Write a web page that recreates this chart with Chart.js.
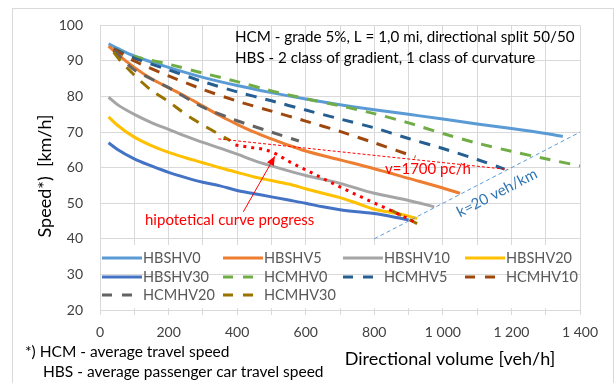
<!DOCTYPE html>
<html>
<head>
<meta charset="utf-8">
<script src="https://cdn.jsdelivr.net/npm/chart.js@4.4.1/dist/chart.umd.min.js"></script>
<style>
  html, body { margin: 0; padding: 0; background: #fff; }
  #wrap { position: relative; width: 614px; height: 383px; }
</style>
</head>
<body>
<div id="wrap"><canvas id="speedChart" width="614" height="383"></canvas></div>
<script>
// directional volume [veh/h] and speed [km/h]
const hbsHV0Vol = [25, 50, 100, 200, 300, 400, 500, 600, 700, 800, 900, 1000, 1100, 1200, 1300, 1350];
const hbsHV0Spd = [94.8, 93.6, 91.4, 88.2, 85.4, 83.1, 81.1, 79.3, 77.7, 76.3, 75.0, 73.7, 72.3, 71.0, 69.6, 68.8];

const hbsHV5Vol = [25, 50, 100, 150, 200, 250, 300, 350, 400, 450, 500, 550, 600, 700, 800, 900, 1000, 1050];
const hbsHV5Spd = [94.2, 92.0, 88.2, 85.0, 82.5, 80.0, 77.3, 74.6, 72.2, 70.0, 68.1, 66.3, 64.7, 62.2, 59.7, 57.0, 54.3, 52.8];

const hbsHV10Vol = [25, 50, 100, 150, 200, 250, 300, 350, 400, 450, 500, 550, 600, 700, 800, 900, 975];
const hbsHV10Spd = [79.8, 77.8, 75.0, 72.7, 70.8, 68.9, 67.1, 65.5, 63.8, 62.0, 60.5, 59.1, 57.8, 55.6, 52.8, 50.8, 49.0];

const hbsHV20Vol = [25, 50, 100, 150, 200, 250, 300, 350, 400, 450, 500, 550, 600, 650, 700, 750, 800, 850, 900, 925];
const hbsHV20Spd = [74.3, 72.0, 68.6, 66.2, 64.3, 62.8, 61.4, 60.0, 58.7, 57.4, 56.4, 55.4, 54.1, 52.8, 51.6, 50.0, 48.3, 47.4, 46.4, 45.7];

const hbsHV30Vol = [25, 50, 100, 150, 200, 250, 300, 350, 400, 450, 500, 550, 600, 650, 700, 750, 800, 850, 900];
const hbsHV30Spd = [67.0, 65.2, 62.5, 60.5, 58.7, 57.2, 55.9, 54.9, 53.6, 52.7, 51.8, 50.9, 50.0, 49.0, 48.2, 47.6, 47.1, 46.3, 45.3];

const hcmHV0Vol = [40, 100, 200, 300, 400, 500, 600, 700, 800, 900, 1000, 1100, 1200, 1300, 1400];
const hcmHV0Spd = [93.5, 91.3, 89.1, 86.6, 84.2, 81.6, 79.4, 77.4, 75.2, 72.6, 69.6, 66.9, 64.6, 62.5, 60.5];

const hcmHV5Vol = [40, 100, 200, 300, 400, 500, 600, 700, 800, 900, 1000, 1100, 1180];
const hcmHV5Spd = [93.5, 90.8, 87.5, 84.2, 81.3, 78.8, 76.2, 73.7, 71.2, 68.2, 65.4, 62.3, 59.6];

const hcmHV10Vol = [40, 100, 200, 300, 400, 500, 600, 700, 800, 920];
const hcmHV10Spd = [93.3, 90.0, 85.8, 82.0, 78.7, 75.9, 73.1, 70.2, 67.0, 63.0];

const hcmHV20Vol = [40, 100, 200, 300, 400, 500, 580];
const hcmHV20Spd = [93.0, 87.5, 82.5, 77.0, 73.2, 70.0, 67.5];

const hcmHV30Vol = [40, 60, 100, 150, 200, 250, 300, 380, 600, 850, 925];
const hcmHV30Spd = [92.5, 90.0, 86.0, 81.7, 78.6, 75.0, 72.0, 67.6, null, 48.0, 44.3];

// annotation lines
const hypoVol = [395, 440, 480, 515, 550, 600, 650, 700, 750, 800, 850, 900, 925];
const hypoSpd = [66.4, 65.7, 65.1, 63.8, 61.8, 59.4, 57.0, 54.6, 52.3, 50.1, 47.9, 45.6, 44.3];
const cap1700Vol = [345, 1190];
const cap1700Spd = [68.1, 59.5];
const k20Vol = [800, 1400];
const k20Spd = [40, 70];
const arrowVol = [418, 510];
const arrowSpd = [47.6, 63.2];

const FONT = 'Lato, "Open Sans", sans-serif';

function pts(xs, ys) {
  return xs.map((x, i) => ({ x: x, y: ys[i] }));
}

function fmtVol(v) {
  if (v % 200 !== 0) return '';
  if (v >= 1000) return Math.floor(v / 1000) + ' ' + String(v % 1000).padStart(3, '0');
  return String(v);
}

const solid = (label, xs, ys, color) => ({
  label: label, data: pts(xs, ys), borderColor: color, backgroundColor: color,
  borderWidth: 3, pointRadius: 0, cubicInterpolationMode: 'monotone', inLegend: true
});
const dashed = (label, xs, ys, color) => ({
  label: label, data: pts(xs, ys), borderColor: color, backgroundColor: color,
  borderWidth: 3, borderDash: [11, 9], pointRadius: 0, tension: 0.2, inLegend: true
});

const datasets = [
  solid('HBSHV0', hbsHV0Vol, hbsHV0Spd, '#5b9bd5'),
  solid('HBSHV5', hbsHV5Vol, hbsHV5Spd, '#ed7d31'),
  solid('HBSHV10', hbsHV10Vol, hbsHV10Spd, '#a5a5a5'),
  solid('HBSHV20', hbsHV20Vol, hbsHV20Spd, '#ffc000'),
  solid('HBSHV30', hbsHV30Vol, hbsHV30Spd, '#4472c4'),
  dashed('HCMHV0', hcmHV0Vol, hcmHV0Spd, '#70ad47'),
  dashed('HCMHV5', hcmHV5Vol, hcmHV5Spd, '#255e91'),
  dashed('HCMHV10', hcmHV10Vol, hcmHV10Spd, '#9e480e'),
  dashed('HCMHV20', hcmHV20Vol, hcmHV20Spd, '#636363'),
  dashed('HCMHV30', hcmHV30Vol, hcmHV30Spd, '#997300'),
  { label: 'v=1700', data: pts(cap1700Vol, cap1700Spd), borderColor: '#ff0000', borderWidth: 1, borderDash: [3, 2], pointRadius: 0 },
  { label: 'k=20', data: pts(k20Vol, k20Spd), borderColor: '#5b9bd5', borderWidth: 1, borderDash: [4, 3], pointRadius: 0 },
  { label: 'hypo', data: pts(hypoVol, hypoSpd), borderColor: '#ff0000', borderWidth: 3, borderDash: [3, 5], pointRadius: 0, cubicInterpolationMode: 'monotone' },
  { label: 'arrow', data: pts(arrowVol, arrowSpd), borderColor: '#ff0000', borderWidth: 1, pointRadius: 0, isArrow: true }
];
// later series on top, like the spreadsheet
datasets.forEach((d, i) => { d.order = 100 - i; d.spanGaps = false; });

const extras = {
  id: 'extras',
  beforeDraw(chart) {
    const ctx = chart.ctx;
    ctx.save();
    ctx.fillStyle = '#fff';
    ctx.fillRect(0, 0, chart.width, chart.height);
    ctx.strokeStyle = '#d9d9d9';
    ctx.lineWidth = 1;
    ctx.strokeRect(12.5, 8.5, 601, 420);
    ctx.restore();
  },
  beforeDatasetsDraw(chart) {
    const ctx = chart.ctx, y = chart.scales.y, a = chart.chartArea;
    ctx.save();
    ctx.fillStyle = '#fff';
    ctx.fillRect(a.left + 1, 245, a.right - a.left - 2, 63);
    ctx.strokeStyle = '#d9d9d9';
    ctx.lineWidth = 1;
    const y30 = Math.round(y.getPixelForValue(30)) + 0.5;
    ctx.beginPath(); ctx.moveTo(a.left, y30); ctx.lineTo(a.right, y30); ctx.stroke();
    ctx.restore();
  },
  afterDatasetsDraw(chart) {
    const ctx = chart.ctx, sx = chart.scales.x, sy = chart.scales.y;
    ctx.save();
    // arrow head
    const x0 = sx.getPixelForValue(arrowVol[0]), y0 = sy.getPixelForValue(arrowSpd[0]);
    const x1 = sx.getPixelForValue(arrowVol[1]), y1 = sy.getPixelForValue(arrowSpd[1]);
    const ang = Math.atan2(y1 - y0, x1 - x0);
    ctx.fillStyle = '#ff0000';
    ctx.translate(x1, y1); ctx.rotate(ang);
    ctx.beginPath(); ctx.moveTo(0, 0); ctx.lineTo(-9, -4); ctx.lineTo(-9, 4); ctx.closePath(); ctx.fill();
    ctx.restore();

    ctx.save();
    ctx.textBaseline = 'middle';
    ctx.fillStyle = '#000';
    ctx.font = '15.2px ' + FONT;
    ctx.fillText('HCM - grade 5%, L = 1,0 mi, directional split 50/50', 235, 37);
    ctx.fillText('HBS - 2 class of gradient, 1 class of curvature', 235, 58);
    ctx.fillStyle = '#ff0000';
    ctx.font = '15px ' + FONT;
    ctx.fillText('v=1700 pc/h', 385, 169);
    ctx.fillText('hipotetical curve progress', 145, 220);
    // k=20 label along its line
    const kx0 = sx.getPixelForValue(k20Vol[0]), ky0 = sy.getPixelForValue(k20Spd[0]);
    const kx1 = sx.getPixelForValue(k20Vol[1]), ky1 = sy.getPixelForValue(k20Spd[1]);
    ctx.translate(497, 193);
    ctx.rotate(Math.atan2(ky1 - ky0, kx1 - kx0));
    ctx.fillStyle = '#2e75b6';
    ctx.textAlign = 'center';
    ctx.fillText('k=20 veh/km', 0, 0);
    ctx.restore();
  },
  afterDraw(chart) {
    const ctx = chart.ctx;
    ctx.save();
    // legend
    const colX = [102, 223, 343, 465], rowY = [258, 277, 295];
    ctx.font = '14.5px ' + FONT;
    ctx.textBaseline = 'middle';
    let n = 0;
    chart.data.datasets.forEach(d => {
      if (!d.inLegend) return;
      const cx = colX[n % 4], cy = rowY[Math.floor(n / 4)];
      ctx.strokeStyle = d.borderColor;
      ctx.lineWidth = 3;
      ctx.setLineDash(d.borderDash ? [10, 10] : []);
      ctx.beginPath(); ctx.moveTo(cx, cy); ctx.lineTo(cx + 40, cy); ctx.stroke();
      ctx.setLineDash([]);
      ctx.fillStyle = '#595959';
      ctx.fillText(d.label, cx + 41, cy);
      n++;
    });
    // titles and footnote
    ctx.fillStyle = '#000';
    ctx.font = '18px ' + FONT;
    ctx.textAlign = 'center';
    ctx.fillText('Directional volume [veh/h]', 450, 359);
    ctx.save();
    ctx.translate(45, 176);
    ctx.rotate(-Math.PI / 2);
    ctx.fillText('Speed*)  [km/h]', 0, 0);
    ctx.restore();
    ctx.textAlign = 'left';
    ctx.font = '15.5px ' + FONT;
    ctx.fillText('*) HCM - average travel speed', 25, 352);
    ctx.fillText('HBS - average passenger car travel speed', 43, 372);
    ctx.restore();
  }
};

const config = {
  type: 'line',
  data: { datasets: datasets },
  options: {
    responsive: false,
    animation: false,
    devicePixelRatio: 1,
    layout: { padding: { left: 0, top: 25, right: 34, bottom: 0 } },
    plugins: { legend: { display: false }, tooltip: { enabled: false } },
    scales: {
      x: {
        type: 'linear', min: 0, max: 1400,
        afterFit(scale) { scale.height = 73; },
        grid: { color: '#d9d9d9', tickColor: '#d9d9d9', tickLength: 5 },
        border: { color: '#d9d9d9' },
        ticks: { stepSize: 100, autoSkip: false, maxRotation: 0, padding: 9, color: '#404040',
                 font: { family: FONT, size: 14 }, callback: fmtVol }
      },
      y: {
        min: 20, max: 100,
        afterFit(scale) { scale.width = 100; },
        grid: { color: '#d9d9d9', drawTicks: false },
        border: { color: '#d9d9d9' },
        ticks: { stepSize: 10, padding: 17, color: '#404040', font: { family: FONT, size: 14 } }
      }
    }
  },
  plugins: [extras]
};

const speedChart = new Chart(document.getElementById('speedChart'), config);
</script>
</body>
</html>
